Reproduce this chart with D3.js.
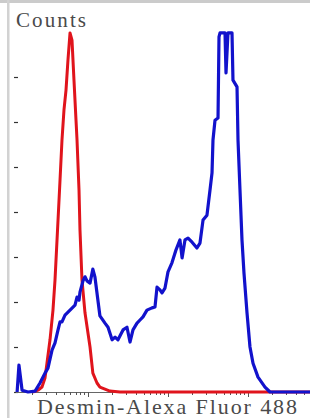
<!DOCTYPE html>
<html>
<head>
<meta charset="utf-8">
<script src="https://cdn.jsdelivr.net/npm/d3@7"></script>
<style>
    html, body { margin: 0; padding: 0; background: #fff; }
    svg { display: block; }
</style>
</head>
<body>
<svg id="chart"></svg>
<script>
// fluorescence intensity (log axis) and counts
const isotypeIntensity = [2.05, 2.37, 2.66, 2.90, 3.07, 3.35, 3.65, 3.87, 4.22, 4.47, 4.73, 5.01, 5.31, 5.62, 5.96,
    6.31, 6.68, 7.08, 7.29, 7.72, 7.94, 8.41, 9.17, 10.6, 11.5, 12.96, 14.1, 18.8, 25.1, 6000];
const isotypeCounts = [0, 4, 11, 31, 64, 116, 182, 249, 382, 471, 560, 627, 671, 738, 798,
    782, 693, 604, 560, 449, 360, 249, 176, 100, 42, 20, 11, 2, 0, 0];

const desminIntensity = [1.30, 1.37, 1.50, 1.78, 2.18, 2.51, 2.90, 3.16, 3.55, 3.87, 4.22, 4.47, 4.73, 5.16, 5.96,
    6.88, 7.29, 7.72, 7.94, 8.66, 9.17, 9.72, 10.6, 11.5, 12.2, 13.3, 14.1, 16.3, 17.8, 20.0,
    21.8, 23.7, 27.4, 30.7, 33.5, 36.5, 41.0, 44.7, 48.7, 54.6, 63.1, 68.8, 72.9, 79.4, 84.1,
    91.7, 100, 112, 126, 141, 150, 163, 178, 200, 230, 251, 274, 307, 335, 355,
    365, 387, 422, 434, 447, 516, 531, 562, 631, 649, 729, 750, 794, 841, 891,
    972, 1059, 1155, 1334, 1631, 1884, 6000];
const desminCounts = [0, 60, 4, 0, 2, 20, 42, 53, 93, 109, 138, 156, 156, 171, 182,
    193, 211, 204, 222, 247, 256, 247, 242, 273, 256, 204, 169, 153, 144, 116,
    122, 116, 138, 144, 111, 138, 153, 160, 167, 182, 187, 189, 233, 227, 220,
    231, 267, 287, 316, 338, 298, 338, 342, 333, 320, 331, 382, 393, 449, 487,
    560, 604, 609, 789, 798, 798, 709, 798, 798, 693, 678, 560, 449, 338, 264,
    176, 100, 64, 33, 11, 0, 0];

const countTicks = [0, 100, 200, 300, 400, 500, 600, 700];
const yLabel = "Counts";
const xLabel = "Desmin-Alexa Fluor 488";

const width = 310;
const height = 418;

const svg = d3.select("#chart")
    .attr("width", width)
    .attr("height", height);

// grey frame bits from the screenshot
svg.append("rect").attr("x", 0).attr("y", 0).attr("width", width).attr("height", 3).attr("fill", "#cbcbcb");
svg.append("rect").attr("x", 7).attr("y", 0).attr("width", 2.5).attr("height", height).attr("fill", "#d2d2d2");

const x = d3.scaleLog()
    .domain([1, 10000])
    .range([8, 328]);

const y = d3.scaleLinear()
    .domain([0, 800])
    .range([392, 32]);

// y ticks: short dashes only
svg.append("g")
    .selectAll("line")
    .data(countTicks)
    .join("line")
    .attr("x1", 14)
    .attr("x2", 18)
    .attr("y1", d => y(d) + 0.5)
    .attr("y2", d => y(d) + 0.5)
    .attr("stroke", "#333")
    .attr("stroke-width", 1.2);

// x axis with log minor ticks
const xTicks = x.ticks().filter(d => x(d) > 17 && x(d) < width);
svg.append("line")
    .attr("x1", 16).attr("x2", width)
    .attr("y1", 392.5).attr("y2", 392.5)
    .attr("stroke", "#666");

svg.append("g")
    .selectAll("line")
    .data(xTicks)
    .join("line")
    .attr("x1", d => Math.round(x(d)) + 0.5)
    .attr("x2", d => Math.round(x(d)) + 0.5)
    .attr("y1", 392)
    .attr("y2", d => Math.log10(d) % 1 === 0 ? 397 : 395)
    .attr("stroke", "#555")
    .attr("stroke-width", 1);

const line = d3.line()
    .x(d => x(d[0]))
    .y(d => y(d[1]));

svg.append("path")
    .datum(d3.zip(isotypeIntensity, isotypeCounts))
    .attr("d", line)
    .attr("fill", "none")
    .attr("stroke", "#e0141c")
    .attr("stroke-width", 3)
    .attr("stroke-linejoin", "round");

svg.append("path")
    .datum(d3.zip(desminIntensity, desminCounts))
    .attr("d", line)
    .attr("fill", "none")
    .attr("stroke", "#1212cc")
    .attr("stroke-width", 3.2)
    .attr("stroke-linejoin", "round");

svg.append("text")
    .attr("x", 16)
    .attr("y", 27)
    .attr("font-family", "'Liberation Serif', 'DejaVu Serif', serif")
    .attr("font-size", "21px")
    .attr("fill", "#4a4a4a")
    .attr("textLength", 70)
    .attr("lengthAdjust", "spacing")
    .text(yLabel);

svg.append("text")
    .attr("x", 37)
    .attr("y", 414)
    .attr("font-family", "'Liberation Serif', 'DejaVu Serif', serif")
    .attr("font-size", "22px")
    .attr("fill", "#4a4a4a")
    .attr("textLength", 260)
    .attr("lengthAdjust", "spacing")
    .text(xLabel);
</script>
</body>
</html>
